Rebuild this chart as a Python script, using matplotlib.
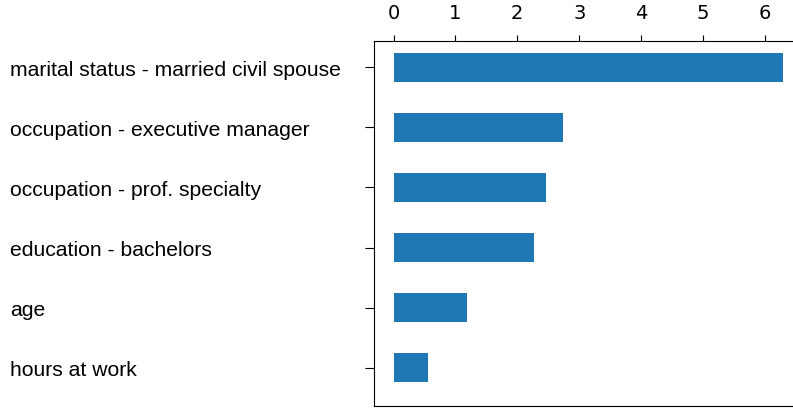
import matplotlib.pyplot as plt
import numpy as np

# feature importance, bottom to top
features = ['hours at work', 'age', 'education - bachelors',
            'occupation - prof. specialty', 'occupation - executive manager',
            'marital status - married civil spouse']
importance = [0.56, 1.18, 2.27, 2.46, 2.74, 6.30]

W, H, DPI = 793, 410, 100
fig = plt.figure(figsize=(W / DPI, H / DPI), dpi=DPI)

# right spine sits just past the image edge, as in the reference
left, right = 374 / W, 803 / W
top, bottom = 1 - 41.7 / H, 1 - 406.7 / H
ax = fig.add_axes([left, bottom, right - left, top - bottom])

y = np.arange(len(features))
ax.barh(y, importance, height=0.48, color='#1f77b4')

ax.set_xlim(-0.315, 6.615)
ax.set_ylim(-0.63, 5.44)
ax.set_xticks(range(7))
ax.spines['right'].set_visible(False)

ax.xaxis.tick_top()
ax.tick_params(axis='x', length=4.2, pad=9, labelsize=14)

# labels left-aligned at the image edge
ylen = 6.5
ax.set_yticks(y)
ax.set_yticklabels(features, family='Liberation Sans', fontsize=15.2, ha='left')
pad_pt = (374 - 10) * 72 / DPI - ylen
ax.tick_params(axis='y', length=ylen, pad=pad_pt)

fig.savefig('out.png', dpi=DPI)
